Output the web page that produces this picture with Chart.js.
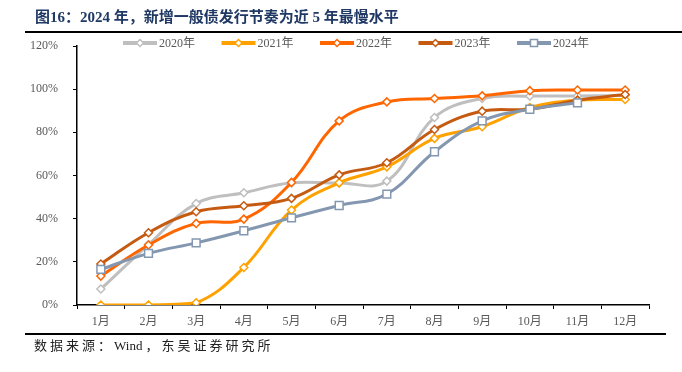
<!DOCTYPE html>
<html>
<head>
<meta charset="utf-8">
<script src="https://cdn.jsdelivr.net/npm/chart.js@4/dist/chart.umd.min.js"></script>
<style>
  body { margin: 0; background: #fff; }
  #wrap { position: relative; width: 682px; height: 372px; overflow: hidden; }
  #c { position: absolute; left: 0; top: 0; }
  .title { position: absolute; left: 35px; top: 5px; font: bold 15px "Liberation Serif", "Noto Sans CJK SC", serif; color: #1F3864; white-space: nowrap; }
  .rule { position: absolute; background: #000; }
  .src { position: absolute; left: 34px; top: 335px; font: 13px "Liberation Serif", "Noto Sans CJK SC", serif; letter-spacing: 3px; color: #222; white-space: nowrap; }
  .src span { letter-spacing: 0; margin-right: 3px; }
</style>
</head>
<body>
<div id="wrap">
  <canvas id="c" width="682" height="372"></canvas>
  <div class="title">图16：2024 年，新增一般债发行节奏为近 5 年最慢水平</div>
  <div class="rule" style="left:25px;top:31px;width:657px;height:2px"></div>
  <div class="rule" style="left:25px;top:333px;width:641px;height:2px"></div>
  <div class="src">数据来源：<span>Wind</span>，东吴证券研究所</div>
</div>
<script>
const months = ['1月', '2月', '3月', '4月', '5月', '6月', '7月', '8月', '9月', '10月', '11月', '12月'];
const seriesNames = ['2020年', '2021年', '2022年', '2023年', '2024年'];
const y2020 = [7.4, 28, 47, 52, 56.6, 56.5, 57.4, 86.9, 95.7, 96.8, 96.8, 97.1];
const y2021 = [0, 0, 1, 17.4, 44, 56.6, 64, 77.2, 82.6, 91.5, 94.9, 95.2];
const y2022 = [13.4, 27.8, 37.8, 39.8, 56.8, 85.3, 94.1, 95.7, 96.9, 99.3, 99.6, 99.6];
const y2023 = [19, 33.5, 43.2, 46, 49.4, 60.3, 65.9, 81.3, 89.8, 90.7, 94.9, 97.5];
const y2024 = [16.5, 23.9, 28.8, 34.4, 40.4, 46.1, 51.4, 71, 85.3, 90.7, 93.7, null];
const yTicks = [0, 20, 40, 60, 80, 100, 120];

const colors = ['#BFBFBF', '#FFA200', '#FF6600', '#C55A11', '#8497B0'];
const styles = ['rectRot', 'rectRot', 'rectRot', 'rectRot', 'rect'];
const radii = [4, 4, 4, 4, 5.5];
const allData = [y2020, y2021, y2022, y2023, y2024];

const serif = '"Liberation Serif", "Noto Sans CJK SC", serif';

const datasets = allData.map((d, i) => ({
  label: seriesNames[i],
  data: d,
  borderColor: colors[i],
  backgroundColor: colors[i],
  borderWidth: 3,
  tension: 0.4,
  pointStyle: styles[i],
  pointRadius: radii[i],
  pointBorderWidth: 1.5,
  pointBorderColor: colors[i],
  pointBackgroundColor: '#fff',
  order: 5 - i
}));

// legend drawn by hand so it can sit over the top of the plot
const lineLegend = {
  id: 'lineLegend',
  afterDraw(chart) {
    const ctx = chart.ctx;
    const y = 43;
    ctx.save();
    ctx.font = '12px ' + serif;
    ctx.textBaseline = 'middle';
    chart.data.datasets.forEach((ds, i) => {
      const x = 123 + i * 98.5;
      ctx.strokeStyle = ds.borderColor;
      ctx.lineWidth = 4;
      ctx.beginPath();
      ctx.moveTo(x, y);
      ctx.lineTo(x + 34, y);
      ctx.stroke();
      ctx.fillStyle = '#fff';
      ctx.lineWidth = 1.5;
      Chart.helpers.drawPoint(ctx, {pointStyle: ds.pointStyle, radius: ds.pointStyle === 'rect' ? 5 : 3.5, rotation: 0, borderWidth: 1.5}, x + 17, y);
      ctx.fillStyle = '#595959';
      ctx.fillText(ds.label, x + 36, y + 1);
    });
    ctx.restore();
  }
};

new Chart(document.getElementById('c'), {
  type: 'line',
  data: { labels: months, datasets: datasets },
  options: {
    responsive: false,
    animation: false,
    layout: { padding: { left: 27, right: 33, top: 46, bottom: 37 } },
    plugins: { legend: { display: false }, tooltip: { enabled: false } },
    scales: {
      x: {
        offset: true,
        grid: { offset: true, drawOnChartArea: false, drawTicks: true, tickLength: 4, color: '#000', lineWidth: 1 },
        border: { color: '#000', width: 1.5 },
        ticks: { color: '#595959', font: { family: serif, size: 12 }, padding: 6, maxRotation: 0 },
        afterFit(s) { s.height = 30; }
      },
      y: {
        min: 0,
        max: 120,
        afterBuildTicks(s) { s.ticks = yTicks.map(v => ({ value: v })); },
        grid: { drawOnChartArea: false, drawTicks: true, tickLength: 4, color: '#000', lineWidth: 1 },
        border: { color: '#000', width: 1.5 },
        ticks: { color: '#595959', font: { family: serif, size: 12 }, padding: 15, callback: v => v + '%' },
        afterFit(s) { s.width = 50; }
      }
    }
  },
  plugins: [lineLegend]
});
</script>
</body>
</html>
